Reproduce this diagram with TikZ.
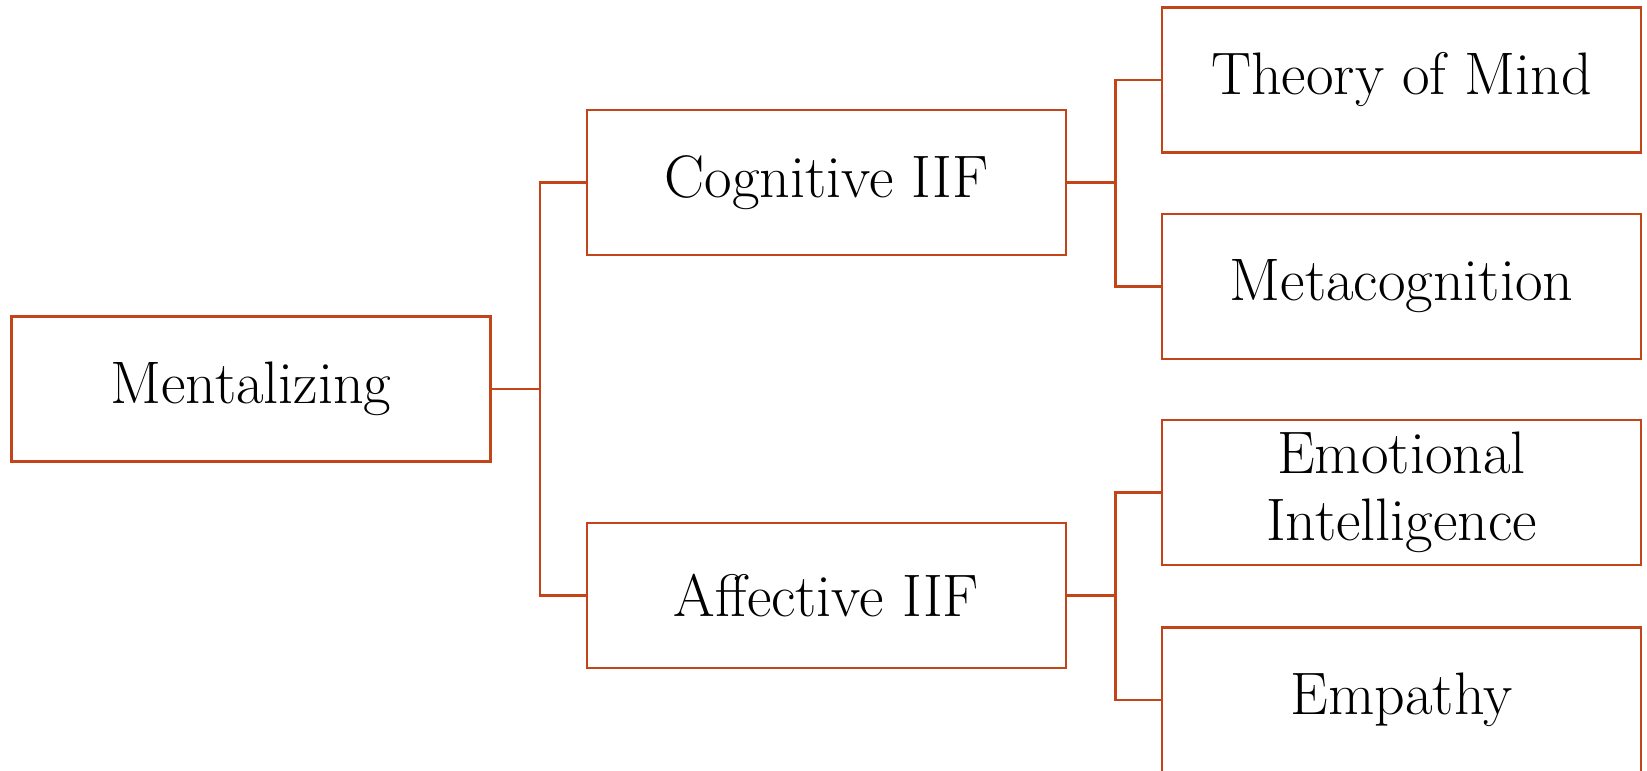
\documentclass[tikz,border=0pt]{standalone}
\usepackage{tikz}
\usetikzlibrary{calc}
\definecolor{boxline}{RGB}{196,68,26}
\tikzset{
  box/.style={draw=boxline, line width=2.3pt, fill=white, minimum width=479pt, minimum height=145pt,
    inner sep=0pt, align=center, font=\fontsize{60}{67}\selectfont, text=black},
  link/.style={draw=boxline, line width=2.3pt}
}
\begin{document}
\begin{tikzpicture}[x=1pt,y=-1pt]
\useasboundingbox (0,0) rectangle (1647,771);
\clip (0,0) rectangle (1647,771);
\node[box] (ment) at (251,389) {Mentalizing};
\node[box] (cog) at (826.5,182.5) {Cognitive IIF};
\node[box] (aff) at (826.5,595.5) {Affective IIF};
\node[box] (tom) at (1401.5,80) {Theory of Mind};
\node[box] (meta) at (1401.5,286.5) {Metacognition};
\node[box] (ei) at (1401.5,492.5) {Emotional\\Intelligence};
\node[box] (emp) at (1401.5,700) {Empathy};
\coordinate (j1) at ($(ment.east)+(48.25,0)$);
\coordinate (j2) at ($(cog.east)+(48.25,0)$);
\coordinate (j3) at ($(aff.east)+(48.25,0)$);
\draw[link] (ment.east) -- (j1);
\draw[link] (cog.west) -| (j1);
\draw[link] (aff.west) -| (j1);
\draw[link] (cog.east) -- (j2);
\draw[link] (tom.west) -| (j2);
\draw[link] (meta.west) -| (j2);
\draw[link] (aff.east) -- (j3);
\draw[link] (ei.west) -| (j3);
\draw[link] (emp.west) -| (j3);
\end{tikzpicture}
\end{document}
